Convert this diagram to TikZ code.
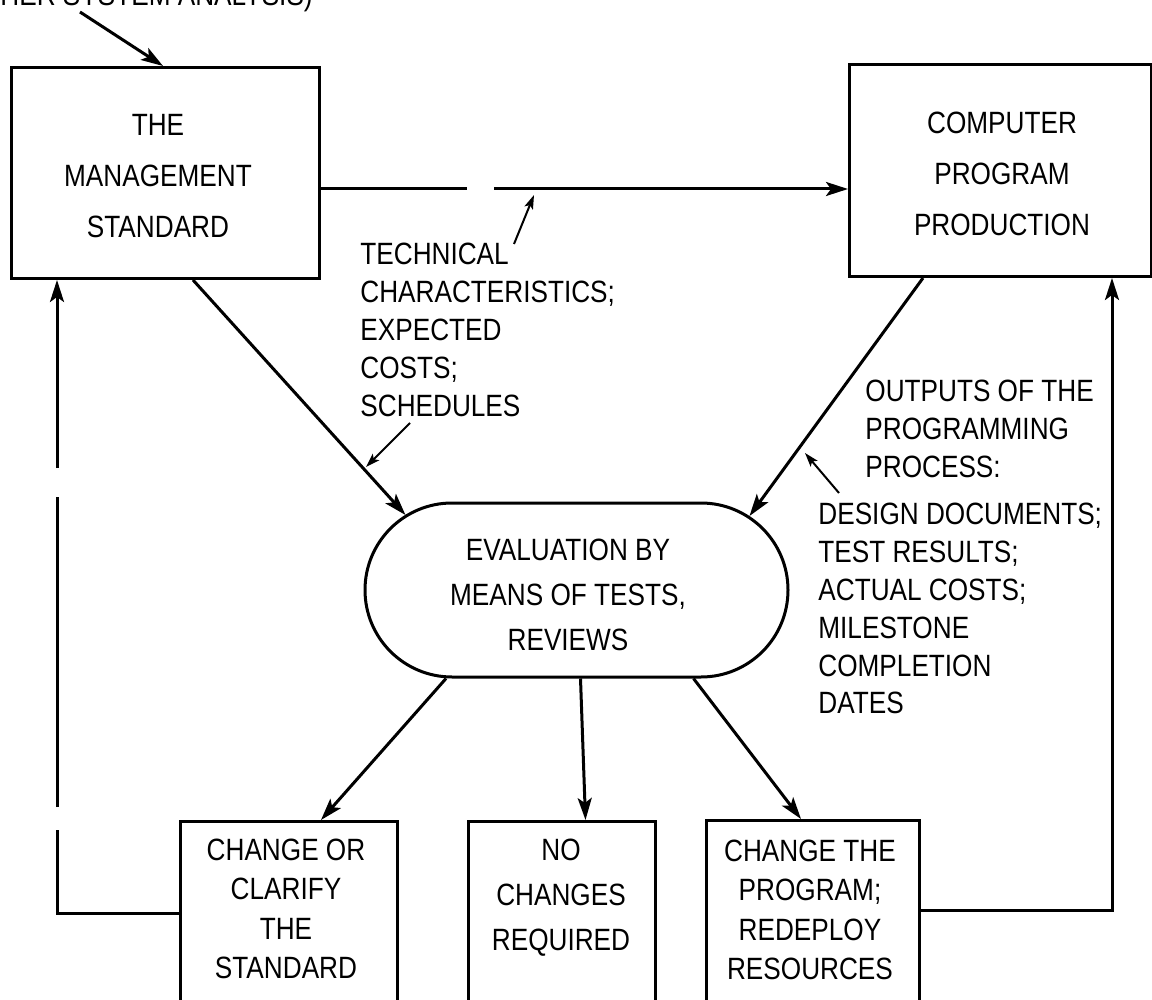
\documentclass[tikz,border=0pt]{standalone}
\usepackage{fontspec}
\setmainfont{Liberation Sans}[FakeStretch=0.85]
\usetikzlibrary{arrows.meta,shapes.misc,calc}

\begin{document}
\begin{tikzpicture}[x=0.5pt,y=-0.5pt,
  wire/.style={line width=1.5pt},
  flow/.style={wire,-{Stealth[length=11pt,width=7pt,inset=2.5pt]}},
  pointer/.style={line width=1pt,-{Stealth[length=7pt,width=4.5pt,inset=1.5pt]}},
  box/.style={draw,line width=1.5pt,inner sep=0pt,anchor=north west},
  boxtext/.style={font=\fontsize{15.4pt}{25.5pt}\selectfont,align=center,inner sep=0pt},
  evaltext/.style={font=\fontsize{15.4pt}{22.5pt}\selectfont,align=center,inner sep=0pt},
  lowtext/.style={font=\fontsize{15.4pt}{19.7pt}\selectfont,align=center,inner sep=0pt},
  notext/.style={font=\fontsize{15.4pt}{22.5pt}\selectfont,align=center,inner sep=0pt},
  note/.style={font=\fontsize{15.4pt}{18.9pt}\selectfont,align=left,inner sep=0pt}
]
\path[use as bounding box,fill=white] (0,0) rectangle (1152,1000);

% main blocks
\node[box,minimum width=154pt,minimum height=105.5pt] (mgmt) at (10,66) {};
\node[boxtext] (mgmttext) at (158,176) {THE\\MANAGEMENT\\STANDARD};

\node[box,minimum width=151pt,minimum height=106pt] (comp) at (848,63) {};
\node[boxtext] (comptext) at (1002,174) {COMPUTER\\PROGRAM\\PRODUCTION};

\node[draw,line width=1.5pt,rounded rectangle,minimum width=211.5pt,minimum height=87pt,inner sep=0pt] (eval) at (576.5,590) {};
\node[evaltext] (evaltxt) at (568,595) {EVALUATION BY\\MEANS OF TESTS,\\REVIEWS};

% outcome blocks, running off the lower edge
\node[box,minimum width=108.5pt,minimum height=92pt] (chg) at (179,820) {};
\node[lowtext] (chgtext) at (286,909) {CHANGE OR\\CLARIFY\\THE\\STANDARD};

\node[box,minimum width=93.5pt,minimum height=92pt] (none) at (467,820) {};
\node[notext] (nonetext) at (561,898) {NO\\CHANGES\\REQUIRED};

\node[box,minimum width=106.5pt,minimum height=92pt] (prog) at (705,819) {};
\node[lowtext] (progtext) at (810,910) {CHANGE THE\\PROGRAM;\\REDEPLOY\\RESOURCES};

% annotations
\node[note,anchor=base west] (srctext) at (0,6) {HER SYSTEM ANALYSIS)};
\node[note,anchor=north west] (techtext) at (360,243) {TECHNICAL\\CHARACTERISTICS;\\EXPECTED\\COSTS;\\SCHEDULES};
\node[note,anchor=north west] (outtext) at (865,380) {OUTPUTS OF THE\\PROGRAMMING\\PROCESS:};
\node[note,anchor=north west] (detailtext) at (818,503) {DESIGN DOCUMENTS;\\TEST RESULTS;\\ACTUAL COSTS;\\MILESTONE\\COMPLETION\\DATES};

% incoming arrow from the upper left
\coordinate (src) at (80,12);
\draw[flow] (src) -- ($(mgmt.north west)+(153,0)$);

% standard -> production, broken line
\coordinate (gapL) at (467,189);
\coordinate (gapR) at (494,189);
\draw[wire] (mgmt.east |- gapL) -- (gapL);
\draw[flow] (gapR) -- (comp.west |- gapR);

% inputs to the evaluation
\draw[flow] ($(mgmt.south west)+(183,0)$) -- ($(eval.center)+(-171,-75)$);
\draw[flow] ($(comp.south west)+(75,0)$) -- ($(eval.center)+(173,-74)$);

% outcomes of the evaluation
\draw[flow] ($(eval.south)+(-130.5,0)$) -- ($(chg.north west)+(142,0)$);
\draw[flow] ($(eval.south)+(4,0)$) -- ($(none.north)+(23.5,0)$);
\draw[flow] ($(eval.south)+(117,0)$) -- ($(prog.north west)+(96,0)$);

% feedback to the standard (broken line)
\coordinate (lcorner) at (57,913);
\coordinate (lgapDb) at (57,830);
\coordinate (lgapDa) at (57,807);
\coordinate (lgapUb) at (57,497);
\coordinate (lgapUa) at (57,468);
\draw[wire] (chg.west |- lcorner) -- (lcorner) -- (lgapDb);
\draw[wire] (lgapDa) -- (lgapUb);
\draw[flow] (lgapUa) -- (mgmt.south -| lgapUa);

% feedback to production
\coordinate (rcorner) at (1112,910);
\draw[flow] (prog.east |- rcorner) -- (rcorner) -- (comp.south -| rcorner);

% label pointers
\coordinate (p1a) at (514,244);
\coordinate (p1b) at (534,195);
\draw[pointer] (p1a) -- (p1b);
\coordinate (p2a) at (410,423);
\coordinate (p2b) at (366,467);
\draw[pointer] (p2a) -- (p2b);
\coordinate (p3a) at (839,493);
\coordinate (p3b) at (805,453);
\draw[pointer] (p3a) -- (p3b);
\end{tikzpicture}
\end{document}
